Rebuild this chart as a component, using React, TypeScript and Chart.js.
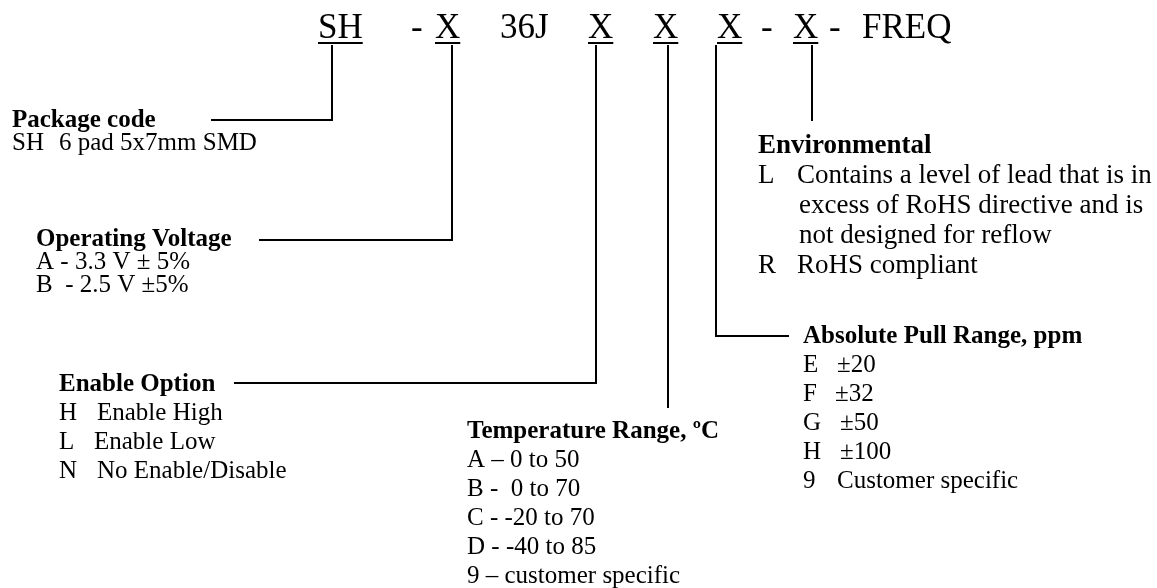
import React, { useEffect, useRef } from "react";
import { Chart, registerables } from "chart.js";

Chart.register(...registerables);

// ---- Part number header ----
const codeSegments = ["SH", "-", "X", "36J", "X", "X", "X", "-", "X", "-", "FREQ"];
const codeUnderlined = [true, false, true, false, true, true, true, false, true, false, false];

// ---- Connector lines (drop x, elbow y, horizontal end x) ----
const connectorNames = ["Package", "Voltage", "Enable", "Temperature", "Pull", "Environmental"];
const connectorDropX = [332, 452, 596, 668, 716, 812];
const connectorElbowY = [120, 240, 383, 407, 336, 120];
const connectorEndX: (number | null)[] = [212, 260, 235, null, 788, null];

// ---- Section titles ----
const sectionTitles = [
  "Package code",
  "Operating Voltage",
  "Enable Option",
  "Temperature Range, ºC",
  "Absolute Pull Range, ppm",
  "Environmental",
];

// ---- Section items ----
const packageCodes = ["SH"];
const packageDescs = ["6 pad 5x7mm SMD"];
const voltageCodes = ["A - 3.3 V ± 5%", "B  - 2.5 V ±5%"];
const voltageDescs = ["", ""];
const enableCodes = ["H", "L", "N"];
const enableDescs = ["Enable High", "Enable Low", "No Enable/Disable"];
const tempCodes = ["A – 0 to 50", "B -  0 to 70", "C - -20 to 70", "D - -40 to 85", "9 – customer specific"];
const tempDescs = ["", "", "", "", ""];
const pullCodes = ["E", "F", "G", "H", "9"];
const pullDescs = ["±20", "±32", "±50", "±100", "Customer specific"];
const envCodes = ["L", "", "", "R"];
const envDescs = [
  "Contains a level of lead that is in",
  "excess of RoHS directive and is",
  "not designed for reflow",
  "RoHS compliant",
];

// ---- Layout (positions kept separate from the data) ----
const W = 1157;
const H = 588;
const codeX = [318, 411, 435, 500, 588, 653, 717, 761, 793, 829, 862];
const codeBaseline = 38;
const underlineY = 42;
const dropTopY = 46;
const sectionX = [12, 36, 59, 467, 803, 758];
const sectionBaseline = [127, 246, 391, 438, 343, 153];
const sectionStep = [23, 23, 29, 29, 29, 30];
const sectionFontPx = [25, 25, 25, 25, 25, 27];
const sectionCodes = [packageCodes, voltageCodes, enableCodes, tempCodes, pullCodes, envCodes];
const sectionDescs = [packageDescs, voltageDescs, enableDescs, tempDescs, pullDescs, envDescs];
const sectionDescX: number[][] = [
  [59],
  [0, 0],
  [97, 94, 97],
  [0, 0, 0, 0, 0],
  [837, 835, 840, 840, 837],
  [797, 799, 799, 797],
];

const FONT_FAMILY = '"Liberation Serif", "Times New Roman", "DejaVu Serif", serif';

export default function App() {
  const ref = useRef<HTMLCanvasElement | null>(null);

  useEffect(() => {
    if (!ref.current) return;

    const datasets = connectorNames.map((name, i) => {
      const pts: { x: number; y: number }[] = [
        { x: connectorDropX[i], y: dropTopY },
        { x: connectorDropX[i], y: connectorElbowY[i] },
      ];
      const endX = connectorEndX[i];
      if (endX !== null) pts.push({ x: endX, y: connectorElbowY[i] });
      return {
        label: name,
        data: pts,
        showLine: true,
        borderColor: "#000",
        borderWidth: 2,
        pointRadius: 0,
        fill: false,
        tension: 0,
        borderCapStyle: "square" as const,
        borderJoinStyle: "miter" as const,
      };
    });

    const textPlugin = {
      id: "diagramText",
      beforeDraw(chart: any) {
        const ctx = chart.ctx;
        ctx.save();
        ctx.fillStyle = "#fff";
        ctx.fillRect(0, 0, chart.width, chart.height);
        ctx.restore();
      },
      afterDatasetsDraw(chart: any) {
        const ctx = chart.ctx as CanvasRenderingContext2D;
        const xs = chart.scales.x;
        const ys = chart.scales.y;
        ctx.save();
        ctx.fillStyle = "#000";
        ctx.textBaseline = "alphabetic";
        ctx.textAlign = "left";

        // header
        ctx.font = `35px ${FONT_FAMILY}`;
        codeSegments.forEach((seg, i) => {
          const px = xs.getPixelForValue(codeX[i]);
          const py = ys.getPixelForValue(codeBaseline);
          ctx.fillText(seg, px, py);
          if (codeUnderlined[i]) {
            const w = ctx.measureText(seg).width;
            ctx.fillRect(px, ys.getPixelForValue(underlineY), w, 2);
          }
        });

        // sections
        sectionTitles.forEach((title, s) => {
          const x0 = xs.getPixelForValue(sectionX[s]);
          const fpx = sectionFontPx[s];
          ctx.font = `bold ${fpx}px ${FONT_FAMILY}`;
          ctx.fillText(title, x0, ys.getPixelForValue(sectionBaseline[s]));
          ctx.font = `${fpx}px ${FONT_FAMILY}`;
          const codes = sectionCodes[s];
          const descs = sectionDescs[s];
          codes.forEach((code, k) => {
            const by = ys.getPixelForValue(sectionBaseline[s] + sectionStep[s] * (k + 1));
            if (code) ctx.fillText(code, x0, by);
            if (descs[k]) ctx.fillText(descs[k], xs.getPixelForValue(sectionDescX[s][k]), by);
          });
        });
        ctx.restore();
      },
    };

    const chart = new Chart(ref.current, {
      type: "scatter",
      data: { datasets },
      options: {
        animation: false,
        responsive: false,
        maintainAspectRatio: false,
        devicePixelRatio: 1,
        layout: { padding: 0 },
        plugins: { legend: { display: false }, tooltip: { enabled: false } },
        scales: {
          x: { type: "linear", min: 0, max: W, display: false },
          y: { type: "linear", min: 0, max: H, reverse: true, display: false },
        },
      },
      plugins: [textPlugin],
    });
    return () => chart.destroy();
  }, []);

  return (
    <div style={{ position: "absolute", left: 0, top: 0, width: W, height: H, background: "#fff" }}>
      <canvas ref={ref} width={W} height={H} style={{ display: "block", width: W, height: H }} />
    </div>
  );
}
